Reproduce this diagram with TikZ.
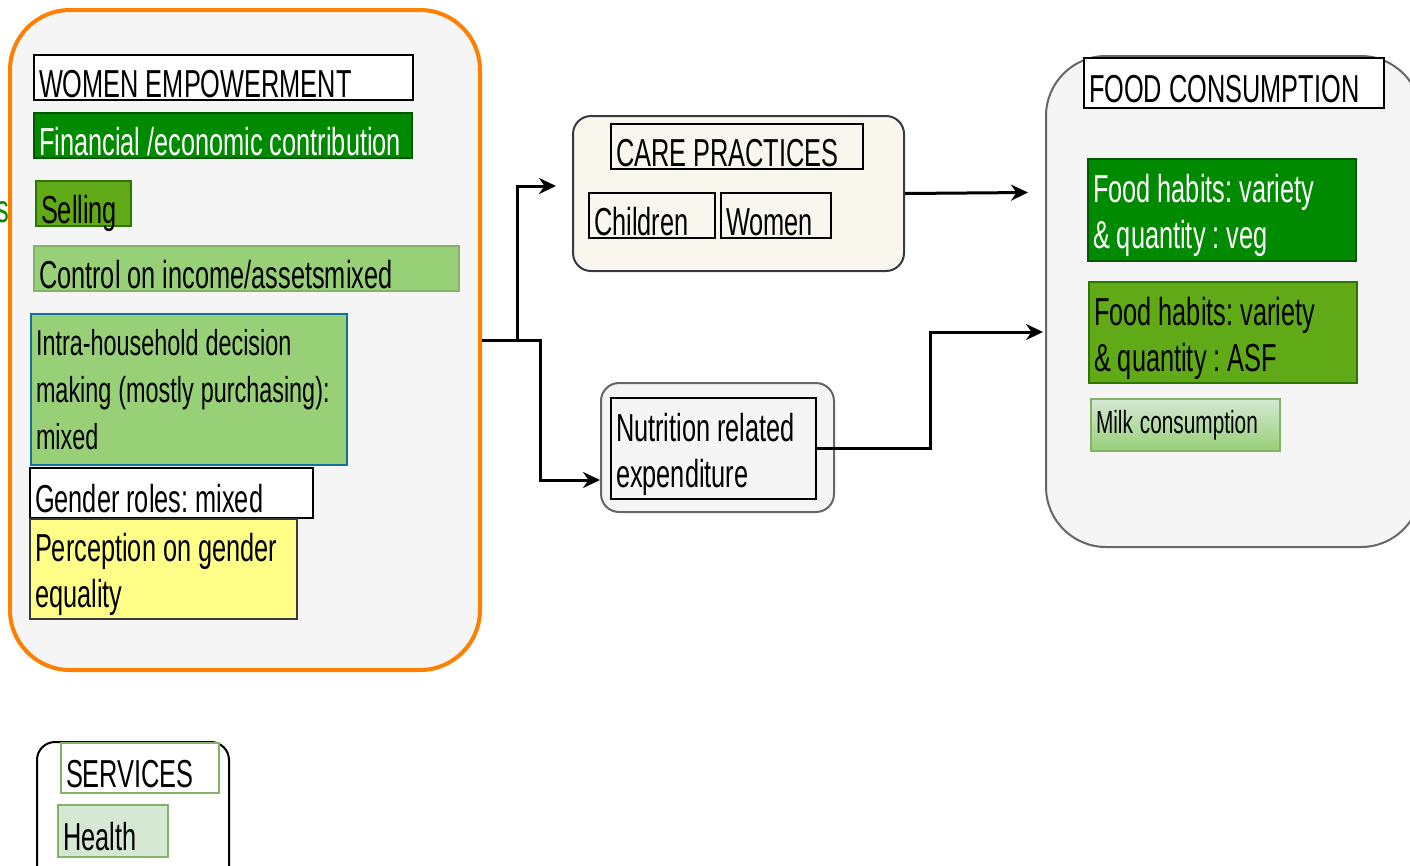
\documentclass[tikz,border=0pt]{standalone}
\usepackage{fontspec}
\setmainfont{Liberation Sans}[FakeStretch=0.65]
\usetikzlibrary{arrows.meta}
\hyphenpenalty=10000

\definecolor{orangeline}{HTML}{FF8000}
\definecolor{paneback}{HTML}{F5F5F5}
\definecolor{creamback}{HTML}{F9F7ED}
\definecolor{darkline}{HTML}{36393D}
\definecolor{greyline}{HTML}{666666}
\definecolor{deepgreen}{HTML}{008A00}
\definecolor{deepgreenline}{HTML}{005700}
\definecolor{midgreen}{HTML}{60A917}
\definecolor{midgreenline}{HTML}{2D7600}
\definecolor{lightgreen}{HTML}{97D077}
\definecolor{palegreen}{HTML}{D5E8D4}
\definecolor{softgreenline}{HTML}{82B366}
\definecolor{blueline}{HTML}{10739E}
\definecolor{lightyellow}{HTML}{FFFF88}

\begin{document}
\begin{tikzpicture}[x=1pt,y=-1pt,
  box/.style={draw,line width=2pt,anchor=north west,inner xsep=5pt,inner ysep=0pt,align=left,
    font=\fontsize{39}{46}\selectfont,
    execute at begin node={\frenchspacing\spaceskip=7pt plus 2pt minus 1pt\relax}},
  one/.style={text height=42pt,text depth=3pt},
  two/.style={execute at begin node={\rule{0pt}{40pt}}},
  group/.style={draw,line width=2pt,anchor=north west,inner sep=0pt,rounded corners=#1},
  group/.default=18pt,
  arr/.style={line width=3pt,-{Stealth[length=17pt,width=16pt]}}]

  \clip (0,0) rectangle (1410,865);

  % women empowerment
  \node[group=60pt,draw=orangeline,line width=4pt,fill=paneback,
    minimum width=470,minimum height=660] (wemp) at (8,8) {};
  \node[box,one,fill=white,text width=369] (wtitle) at (33,54) {WOMEN EMPOWERMENT};
  \node[box,one,fill=deepgreen,draw=deepgreenline,text=white,text width=368] (fin) at (33,112)
    {Financial /economic contribution};
  \node[box,one,fill=midgreen,draw=midgreenline,text width=85] (sell) at (35,180) {Selling};
  \node[anchor=base east,inner sep=0pt,text=deepgreen,font=\fontsize{39}{46}\selectfont] (cut) at (9,222) {s};
  \node[box,fill=lightgreen,draw=softgreenline,text width=415,one] (ctrl) at (33,245)
    {Control on income/assetsmixed};
  \node[box,fill=lightgreen,draw=blueline,text width=306,minimum height=151,
    font=\fontsize{36}{47}\selectfont] (intra) at (30,313)
    {Intra-household decision\\making (mostly purchasing):\\mixed};
  \node[box,one,fill=white,text width=273,minimum height=50] (gender) at (29,467) {Gender roles: mixed};
  \node[box,two,fill=lightyellow,draw=darkline,text width=257,minimum height=100] (perc) at (29,518)
    {Perception on gender\\equality};

  % care practices
  \node[group,fill=creamback,draw=darkline,minimum width=331,minimum height=155] (care) at (572,115) {};
  \node[box,one,text width=242] (ctitle) at (610,123) {CARE PRACTICES};
  \node[box,one,text width=116] (child) at (588,192) {Children};
  \node[box,one,text width=100] (women) at (720,192) {Women};

  % expenditure
  \node[group,fill=paneback,draw=greyline,minimum width=233,minimum height=129] (nutr) at (600,382) {};
  \node[box,two,fill=paneback,text width=195,minimum height=101] (nin) at (610,397)
    {Nutrition related\\expenditure};

  % food consumption
  \node[group=60pt,fill=paneback,draw=greyline,minimum width=375,minimum height=491] (food) at (1045,55) {};
  \node[box,one,fill=white,text width=290,minimum height=50] (ftitle) at (1083,57) {FOOD CONSUMPTION};
  \node[box,two,fill=deepgreen,draw=deepgreenline,text=white,text width=258,minimum height=102] (veg) at (1087,158)
    {Food habits: variety\\\& quantity : veg};
  \node[box,two,fill=midgreen,draw=midgreenline,text width=258,minimum height=101] (asf) at (1088,281)
    {Food habits: variety\\\& quantity : ASF};
  \node[box,top color=palegreen,bottom color=lightgreen,draw=softgreenline,text width=179,
    minimum height=52,font=\fontsize{32}{38}\selectfont] (milk) at (1090,398) {Milk consumption};

  % services
  \node[group,fill=white,minimum width=192,minimum height=160] (serv) at (36,741) {};
  \node[box,one,fill=white,draw=softgreenline,text width=148,minimum height=50] (stitle) at (60,742) {SERVICES};
  \node[box,one,fill=palegreen,draw=softgreenline,text width=100,minimum height=52] (health) at (57,804) {Health};

  % connectors
  \coordinate (up) at (517,340);
  \coordinate (down) at (540,340);
  \coordinate (ca) at (556,186);
  \coordinate (fa) at (1028,192.5);
  \coordinate (k) at (930,332);
  \coordinate (fb) at (1043,332);

  \draw[arr] (wemp.east) -- (up) |- (ca);
  \draw[arr] (wemp.east) -- (down) |- ([shift={(0,32.5)}]nutr.west);
  \draw[arr] (care.east) -- (fa);
  \draw[arr] (nin.east) -| (k) -- (fb);
\end{tikzpicture}
\end{document}
